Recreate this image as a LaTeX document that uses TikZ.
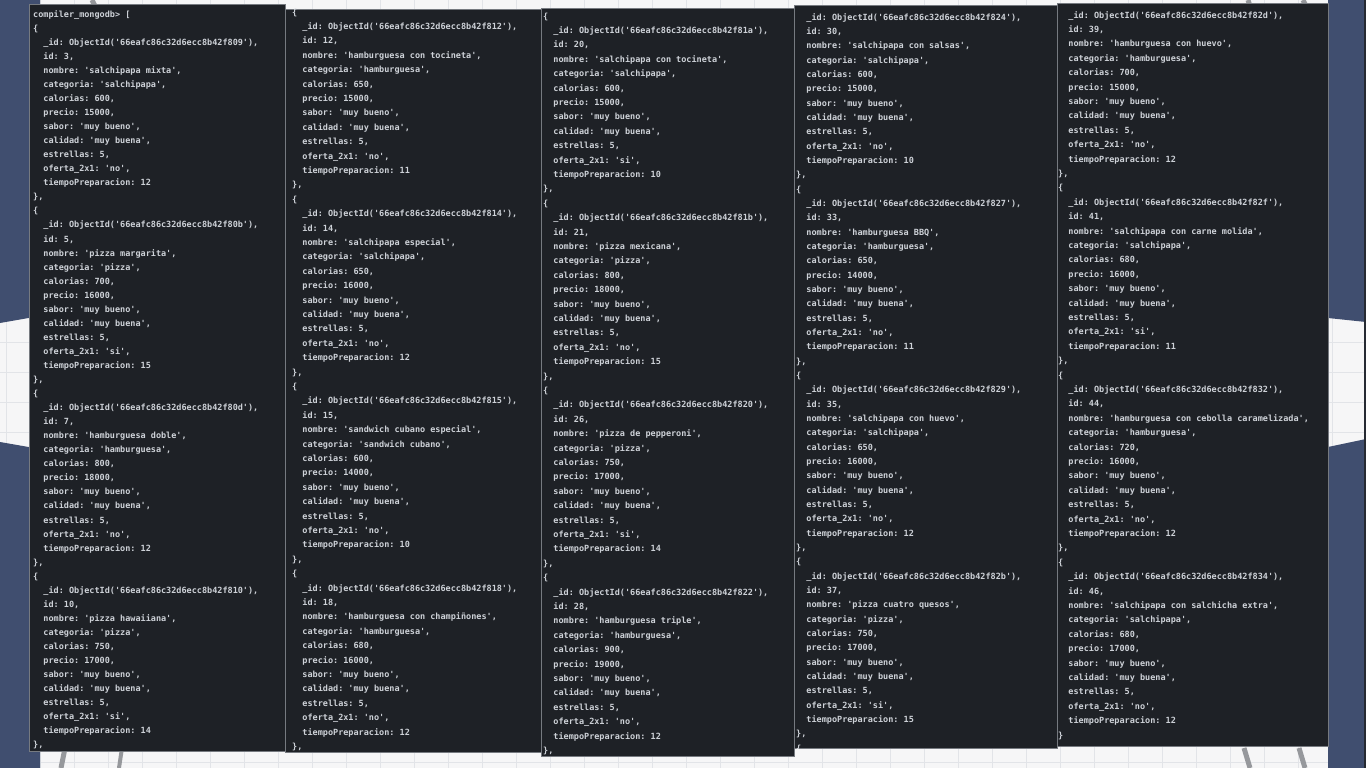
\documentclass[tikz,border=0pt]{standalone}
\usepackage{fontspec}
\setmonofont{DejaVu Sans Mono}
\usepackage{tikz}

\definecolor{fondo}{RGB}{246,246,247}
\definecolor{rejilla}{RGB}{226,228,232}
\definecolor{azul}{RGB}{64,78,111}
\definecolor{consola}{RGB}{30,33,38}
\definecolor{borde}{RGB}{118,122,128}
\definecolor{letra}{RGB}{206,210,216}
\definecolor{pata}{RGB}{150,152,156}
\definecolor{filo}{RGB}{38,42,50}

\newcommand{\pad}{\hspace*{1.204em}}
\newcommand{\campos}[8]{%
\pad \_id: ObjectId('66eafc86c32d6ecc8b42f#1'),\\%
\pad id: #2,\\%
\pad nombre: '#3',\\%
\pad categoria: '#4',\\%
\pad calorias: #5,\\%
\pad precio: #6,\\%
\pad sabor: 'muy bueno',\\%
\pad calidad: 'muy buena',\\%
\pad estrellas: 5,\\%
\pad oferta\_2x1: '#7',\\%
\pad tiempoPreparacion: #8}
\newcommand{\plato}[8]{\{\\\campos{#1}{#2}{#3}{#4}{#5}{#6}{#7}{#8}\\\},}

\tikzset{
  panel/.style={fill=consola, draw=borde, line width=0.6pt},
  salida/.style={anchor=north west, inner sep=0pt, align=left, text=letra,
    font=\ttfamily\bfseries\fontsize{8.5}{#1}\selectfont},
  gridline/.style={rejilla, line width=0.5pt},
  leg/.style={pata, line width=5pt}
}

\begin{document}
\begin{tikzpicture}[x=1pt, y=-1pt]

\useasboundingbox (0,0) rectangle (1366,768);
\fill [fondo] (0,0) rectangle (1366,768);
\foreach \gx in {6,40,...,1366} \draw [gridline] (\gx,0) -- (\gx,768);
\foreach \gy in {12,42,...,768} \draw [gridline] (0,\gy) -- (1366,\gy);

% bandas azules
\fill [azul] (0,0) -- (40,0) -- (40,316) -- (0,323) -- cycle;
\fill [azul] (0,442) -- (40,449) -- (40,768) -- (0,768) -- cycle;
\fill [azul] (1328,0) -- (1366,0) -- (1366,322) -- (1328,318) -- cycle;
\fill [azul] (1328,447) -- (1366,439) -- (1366,768) -- (1328,768) -- cycle;
\fill [filo] (1364,0) rectangle (1366,768);

% patas grises
\draw [leg] (92,0) -- (95,6);
\draw [leg] (1248,0) -- (1250,6);
\draw [leg] (1303,0) -- (1306,6);
\draw [leg] (61,768) -- (65,748);
\draw [leg, line width=4pt] (119,768) -- (122,748);
\draw [leg] (1244,748) -- (1250,768);
\draw [leg] (1299,748) -- (1305,768);

% consola 1
\draw [panel] (29,4) rectangle (285,751);
\begin{scope}
\clip (29,4) rectangle (285,751);
\node (lista1) [salida=14.05] at (33,7.2) {\strut compiler\_mongodb> [\\
\plato{809}{3}{salchipapa mixta}{salchipapa}{600}{15000}{no}{12}\\
\plato{80b}{5}{pizza margarita}{pizza}{700}{16000}{si}{15}\\
\plato{80d}{7}{hamburguesa doble}{hamburguesa}{800}{18000}{no}{12}\\
\plato{810}{10}{pizza hawaiiana}{pizza}{750}{17000}{si}{14}};
\end{scope}

% consola 2
\draw [panel] (285,9) rectangle (541,752);
\begin{scope}
\clip (285,9) rectangle (541,752);
\node (lista2) [salida=14.4] at (292,4.9) {\strut
\plato{812}{12}{hamburguesa con tocineta}{hamburguesa}{650}{15000}{no}{11}\\
\plato{814}{14}{salchipapa especial}{salchipapa}{650}{16000}{no}{12}\\
\plato{815}{15}{sandwich cubano especial}{sandwich cubano}{600}{14000}{no}{10}\\
\plato{818}{18}{hamburguesa con champiñones}{hamburguesa}{680}{16000}{no}{12}};
\end{scope}

% consola 3
\draw [panel] (541,8) rectangle (794,756);
\begin{scope}
\clip (541,8) rectangle (794,756);
\node (lista3) [salida=14.4] at (543,8.9) {\strut
\plato{81a}{20}{salchipapa con tocineta}{salchipapa}{600}{15000}{si}{10}\\
\plato{81b}{21}{pizza mexicana}{pizza}{800}{18000}{no}{15}\\
\plato{820}{26}{pizza de pepperoni}{pizza}{750}{17000}{si}{14}\\
\plato{822}{28}{hamburguesa triple}{hamburguesa}{900}{19000}{no}{12}\\
\{};
\end{scope}

% consola 4
\draw [panel] (794,5) rectangle (1057,748);
\begin{scope}
\clip (794,5) rectangle (1057,748);
\node (lista4) [salida=14.33] at (796,10) {\strut
\campos{824}{30}{salchipapa con salsas}{salchipapa}{600}{15000}{no}{10}\\
\},\\
\plato{827}{33}{hamburguesa BBQ}{hamburguesa}{650}{14000}{no}{11}\\
\plato{829}{35}{salchipapa con huevo}{salchipapa}{650}{16000}{no}{12}\\
\plato{82b}{37}{pizza cuatro quesos}{pizza}{750}{17000}{si}{15}\\
\{};
\end{scope}

% consola 5
\draw [panel] (1057,3) rectangle (1328,746);
\begin{scope}
\clip (1057,3) rectangle (1328,746);
\node (lista5) [salida=14.4] at (1058,7.9) {\strut
\campos{82d}{39}{hamburguesa con huevo}{hamburguesa}{700}{15000}{no}{12}\\
\},\\
\plato{82f}{41}{salchipapa con carne molida}{salchipapa}{680}{16000}{si}{11}\\
\plato{832}{44}{hamburguesa con cebolla caramelizada}{hamburguesa}{720}{16000}{no}{12}\\
\{\\
\campos{834}{46}{salchipapa con salchicha extra}{salchipapa}{680}{17000}{no}{12}\\
\}};
\end{scope}

\end{tikzpicture}
\end{document}
